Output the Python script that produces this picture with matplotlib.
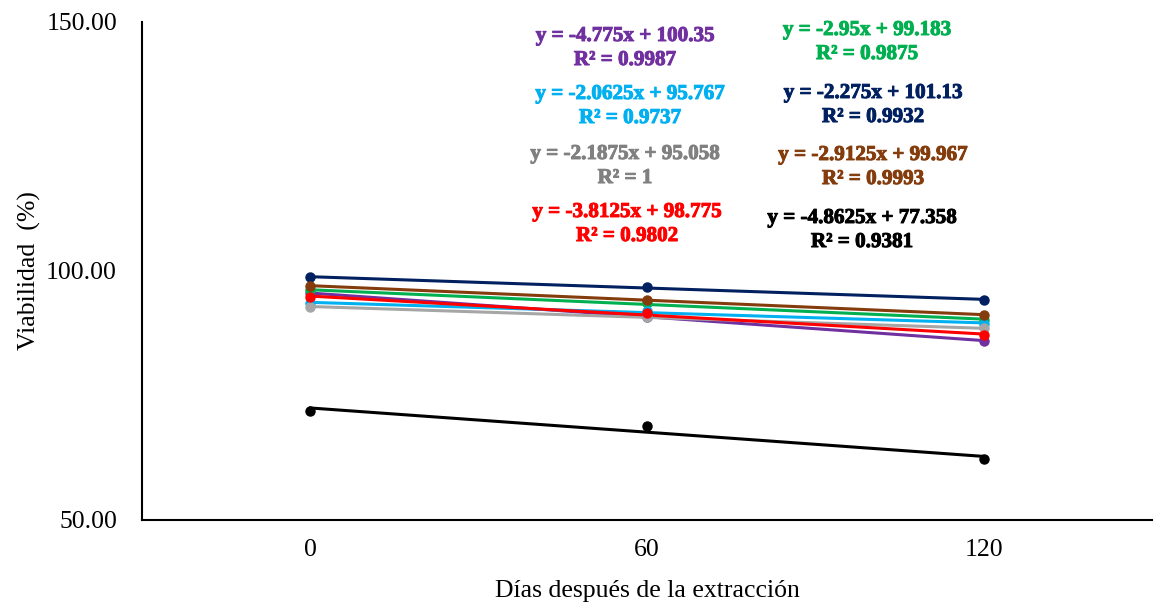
import numpy as np
import matplotlib.pyplot as plt
import matplotlib.patheffects as pe

plt.rcParams['font.family'] = ['Liberation Serif', 'DejaVu Serif']

dias = ['0', '60', '120']

# Viabilidad (%) por tratamiento
morado = [95.6, 90.8, 86.0]
verde = [96.1, 93.5, 90.2]
celeste = [93.5, 92.0, 89.4]
azul = [98.8, 96.7, 94.25]
gris = [92.87, 90.68, 88.49]
cafe = [97.05, 94.1, 91.23]
rojo = [94.7, 91.6, 87.1]
negro = [71.9, 68.9, 62.2]

# coeficientes de las rectas de tendencia (pendiente, intercepto, R2)
pendientes = [-4.775, -2.95, -2.0625, -2.275, -2.1875, -2.9125, -3.8125, -4.8625]
interceptos = [100.35, 99.183, 95.767, 101.13, 95.058, 99.967, 98.775, 77.358]
r2 = ['0.9987', '0.9875', '0.9737', '0.9932', '1', '0.9993', '0.9802', '0.9381']

series = [morado, verde, celeste, azul, gris, cafe, rojo, negro]
colores = ['#7030A0', '#00B050', '#00B0F0', '#002060', '#A6A6A6', '#843C0C', '#FF0000', '#000000']
colores_txt = ['#7030A0', '#00B050', '#00B0F0', '#002060', '#808080', '#843C0C', '#FF0000', '#000000']
pos_txt = [(625, 36), (867, 30), (630, 94), (873, 93), (625, 154), (873, 155), (627, 212), (862, 218)]

fig = plt.figure(figsize=(11.54, 6.07), dpi=100)
ax = fig.add_axes([142 / 1154, 87 / 607, 1010 / 1154, 498 / 607])

x = np.arange(1, len(dias) + 1)
for vals, m, b, c in zip(series, pendientes, interceptos, colores):
    ax.plot(x, m * x + b, color=c, lw=2.2, zorder=2)
    ax.plot(x, vals, 'o', color=c, ms=6.5, zorder=3)

for m, b, r, c, (px, py) in zip(pendientes, interceptos, r2, colores_txt, pos_txt):
    eq = f'y = {m:g}x + {b:g}\nR² = {r}'
    t = fig.text(px / 1154, 1 - (py + 12) / 607, eq, color=c, fontsize=15.2,
                 family='Liberation Serif', weight='bold',
                 ha='center', va='center', linespacing=1.27)
    t.set_path_effects([pe.withStroke(linewidth=0.7, foreground=c)])

ax.set_xlim(0.5, 3.5)
ax.set_ylim(50, 150)
ax.set_xticks(x)
ax.set_xticklabels(dias)
ax.set_yticks([50, 100, 150])
ax.set_yticklabels(['50.00', '100.00', '150.00'])
ax.tick_params(length=0, labelsize=18.5, pad=14)
ax.tick_params(axis='y', pad=18)
ax.spines['top'].set_visible(False)
ax.spines['right'].set_visible(False)
ax.spines['left'].set_linewidth(1.5)
ax.spines['bottom'].set_linewidth(1.5)
ax.set_xlabel('Días después de la extracción', fontsize=18.5, labelpad=13)
ax.set_ylabel('Viabilidad  (%)', fontsize=18.5, labelpad=4)

fig.savefig('out.png', dpi=100)
